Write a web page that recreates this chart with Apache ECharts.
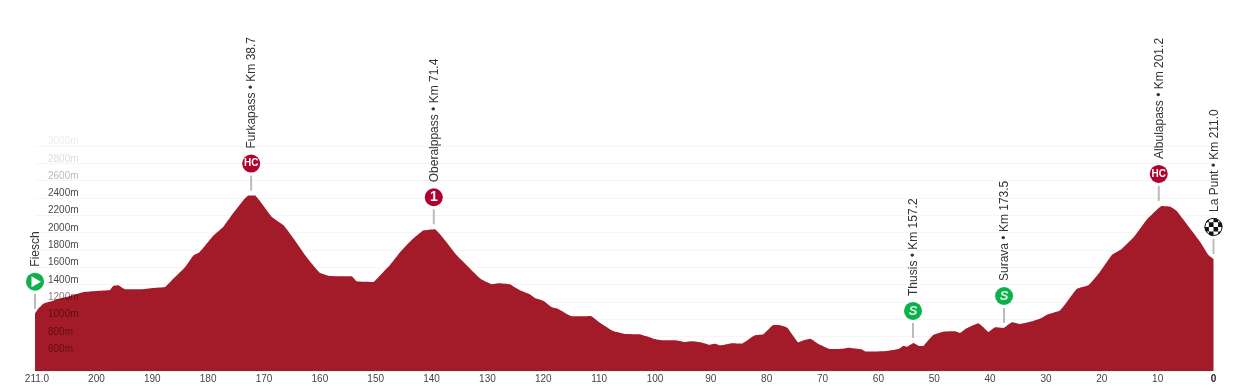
<!DOCTYPE html>
<html>
<head>
<meta charset="utf-8">
<title>Stage profile</title>
<script src="https://cdn.jsdelivr.net/npm/echarts@6/dist/echarts.min.js"></script>
<style>
html, body { margin: 0; padding: 0; background: #fff; }
#profile { width: 1237px; height: 390px; }
</style>
</head>
<body>
<div id="profile"></div>
<script>
// km to go / altitude in metres
var kmLeft = [211, 210.4, 209.5, 208.3, 206.8, 205.3, 203.8, 202.3, 200, 197.6, 197, 196.1, 194.9, 192.2, 189.8, 187.7,
	186.2, 184.1, 182.6, 181.5, 179, 177.3, 175.8, 173.7, 172.8, 171.6, 170.4, 168.6, 166.5, 164.7, 162.4, 160,
	158.5, 157, 154.3, 153.4, 150.4, 149.2, 147.4, 145.6, 143.6, 141.5, 139.4, 137.6, 135.5, 133.4, 131.3, 129.2,
	128, 126, 124.2, 122.4, 121.5, 120, 118.5, 117.3, 114.9, 112.8, 111.5, 109.8, 107.5, 105.4, 102.7,
	100.3, 98.5, 96.4, 94.6, 93.4, 91.6, 90.4, 89.2, 88.4, 87.5, 86.3, 84.5, 83.3, 82.1, 80.6, 78.8, 77.9, 76.3,
	74.3, 73.4, 72.2, 70.7, 68.7, 66.3, 65.4, 63, 62.3, 59.1, 56.4, 55.5, 54.9, 53.7, 52.7, 51.9, 50.2, 48.4, 46.3,
	45.4, 44.2, 42.1, 41.2, 40.3, 39.1, 37.6, 36.1, 34.6, 32.5, 30.8, 29.9, 27.5, 26, 24.5, 22.4, 20.3, 18.2, 16.5,
	14.3, 12, 10.2, 9.3, 7.8, 6.6, 4.8, 2.4, 0.9, 0];
var altitude = [1063, 1121, 1178, 1202, 1236, 1256, 1283, 1313, 1325, 1336, 1383, 1390, 1344, 1344, 1360, 1371,
	1468, 1602, 1737, 1776, 1969, 2065, 2200, 2373, 2427, 2427, 2335, 2180, 2084, 1930, 1718, 1535,
	1502, 1495, 1495, 1437, 1429, 1506, 1629, 1776, 1911, 2023, 2038, 1911, 1737, 1602, 1468, 1402,
	1414, 1402, 1333, 1286, 1244, 1213, 1140, 1117, 1032, 1032, 1036, 955, 862, 828, 824,
	774, 755, 755, 735, 743, 728, 704, 716, 697, 704, 720, 716, 762, 812, 824, 932, 932, 901,
	731, 755, 774, 712, 654, 658, 670, 651, 624, 627, 654, 693, 681, 724, 689, 693, 816, 855, 859,
	840, 893, 951, 905, 851, 905, 897, 963, 943, 974, 1013, 1047, 1098, 1221, 1348, 1390, 1548, 1741, 1807,
	1945, 2146, 2261, 2308, 2300, 2250, 2100, 1895, 1741, 1695];

var xTicks = [211, 200, 190, 180, 170, 160, 150, 140, 130, 120, 110, 100, 90, 80, 70, 60, 50, 40, 30, 20, 10, 0];

var placeNames = ['Fiesch', 'Furkapass • Km 38.7', 'Oberalppass • Km 71.4', 'Thusis • Km 157.2', 'Surava • Km 173.5', 'Albulapass • Km 201.2', 'La Punt • Km 211.0'];
var placeKmLeft = [211, 172.3, 139.6, 53.8, 37.5, 9.8, 0];
var placeAltitude = [1063, 2427, 2038, 724, 897, 2308, 1695];
var placeKinds = ['start', 'HC', '1', 'S', 'S', 'HC', 'finish'];

var red = '#b0022f';
var green = '#0db14b';
var fontName = '"Liberation Sans", Arial, sans-serif';

function checkerFlag() {
	var squares = [];
	for (var i = -2; i < 2; i++) {
		for (var j = -2; j < 2; j++) {
			if ((i + j + 4) % 2 == 0) {
				squares.push({ type: 'rect', shape: { x: i * 4.6, y: j * 4.6, width: 4.6, height: 4.6 }, style: { fill: '#111' } });
			}
		}
	}
	return {
		type: 'group',
		clipPath: { type: 'circle', shape: { cx: 0, cy: 0, r: 9 } },
		children: [{ type: 'circle', shape: { cx: 0, cy: 0, r: 9 }, style: { fill: '#fff' } }].concat(squares)
	};
}

function badge(kind) {
	if (kind == 'finish') {
		return [checkerFlag(), { type: 'circle', shape: { cx: 0, cy: 0, r: 8.6 }, style: { fill: 'none', stroke: '#111', lineWidth: 1 } }];
	}
	if (kind == 'start') {
		return [
			{ type: 'circle', shape: { cx: 0, cy: 0, r: 9 }, style: { fill: green } },
			{ type: 'polygon', shape: { points: [[-3.5, -5.5], [6, 0], [-3.5, 5.5]] }, style: { fill: '#fff' } }
		];
	}
	var isSprint = kind == 'S';
	return [
		{ type: 'circle', shape: { cx: 0, cy: 0, r: 9 }, style: { fill: isSprint ? green : red } },
		{
			type: 'text',
			style: {
				x: 0, y: 0, text: kind, fill: isSprint ? '#d5f5df' : '#fff', align: 'center', verticalAlign: 'middle',
				font: (isSprint ? 'italic bold 13px ' : kind == 'HC' ? 'bold 10px ' : 'bold 14px ') + fontName
			}
		}
	];
}

function renderPlace(params, api) {
	var pt = api.coord([api.value(0), api.value(1)]);
	var i = params.dataIndex;
	return {
		type: 'group',
		x: pt[0],
		y: pt[1],
		children: [
			{ type: 'line', shape: { x1: 0, y1: -5, x2: 0, y2: -20 }, style: { stroke: '#bbb', lineWidth: 2 } },
			{ type: 'group', y: -32, children: badge(placeKinds[i]) },
			{
				type: 'text',
				y: -47,
				x: 1,
				rotation: Math.PI / 2,
				style: {
					x: 0, y: 0, text: placeNames[i], fill: '#333', align: 'left', verticalAlign: 'middle',
					font: '12px ' + fontName
				}
			}
		]
	};
}

var profileData = kmLeft.map(function (km, i) { return [km, altitude[i]]; });
var placeData = placeKmLeft.map(function (km, i) { return [km, placeAltitude[i]]; });

var chart = echarts.init(document.getElementById('profile'));
var option = {
	animation: false,
	grid: { left: 35, right: 23.5, top: 146, bottom: 19 },
	xAxis: {
		type: 'value',
		inverse: true,
		min: 0,
		max: 211,
		axisLine: { show: false },
		axisTick: { show: false },
		splitLine: { show: false },
		axisLabel: {
			customValues: xTicks,
			margin: 3,
			color: '#444',
			fontFamily: fontName,
			fontSize: 10,
			formatter: function (v) {
				if (v == 211) return '{first|211.0}';
				if (v == 0) return '{end|0}';
				return v;
			},
			rich: {
				first: { fontSize: 10, color: '#444', padding: [0, 0, 0, 4] },
				end: { fontWeight: 'bold', fontSize: 10, color: '#222' }
			}
		}
	},
	yAxis: [
		// grid lines stay under the area
		{
			type: 'value',
			position: 'left',
			min: 400,
			max: 3000,
			interval: 200,
			axisLine: { show: false, onZero: false },
			axisTick: { show: false },
			axisLabel: { show: false },
			splitLine: { lineStyle: { color: '#f5f5f5', width: 1 } }
		},
		// labels sit on top of the area
		{
			type: 'value',
			position: 'left',
			min: 400,
			max: 3000,
			interval: 200,
			z: 5,
			axisLine: { show: false, onZero: false },
			axisTick: { show: false },
			splitLine: { show: false },
			axisLabel: {
				inside: true,
				showMinLabel: false,
				margin: 13,
				align: 'left',
				verticalAlign: 'bottom',
				lineHeight: 9,
				fontFamily: fontName,
				fontSize: 10,
				color: function (v) {
					if (v >= 3000) return '#eeeeee';
					if (v >= 2800) return '#dddddd';
					if (v >= 2600) return '#bbbbbb';
					if (v >= 1400) return '#4a4a4a';
					return 'rgba(40,0,0,0.55)';
				},
				formatter: function (v) { return v + 'm'; }
			}
		}
	],
	series: [
		{
			type: 'line',
			data: profileData,
			symbol: 'none',
			smooth: 0.1,
			z: 2,
			lineStyle: { width: 0 },
			areaStyle: { color: '#a31b29', opacity: 1 }
		},
		{
			type: 'custom',
			data: placeData,
			encode: { x: 0, y: 1 },
			clip: false,
			z: 10,
			renderItem: renderPlace
		}
	]
};
chart.setOption(option);
</script>
</body>
</html>
